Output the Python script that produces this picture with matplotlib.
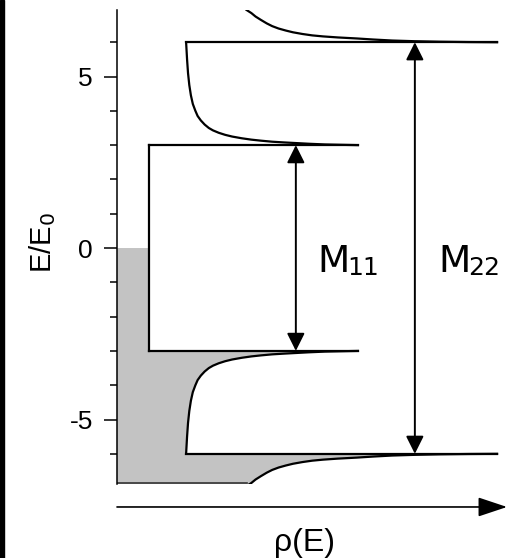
import numpy as np
import matplotlib
matplotlib.use("Agg")
import matplotlib.pyplot as plt
from matplotlib.patches import Rectangle

plt.rcParams['font.family'] = ['Liberation Sans', 'DejaVu Sans']
plt.rcParams['axes.unicode_minus'] = False

# band edges (E/E0) and constant DOS level
gap1 = 3.0
gap2 = 6.0
rho_const = 1.0

# first van Hove branch (|E| between gap1 and gap2)
inner_E = np.array([3.00, 3.01, 3.02, 3.04, 3.06, 3.08, 3.10, 3.13, 3.16, 3.20, 3.25, 3.30,
                    3.36, 3.43, 3.50, 3.60, 3.72, 3.85, 4.00, 4.20, 4.45, 4.75, 5.10, 5.50, 6.00])
inner_rho = np.array([7.53, 7.0, 6.5, 6.0, 5.6, 5.2, 4.85, 4.5, 4.2, 3.9, 3.6, 3.38,
                      3.18, 3.0, 2.87, 2.74, 2.62, 2.52, 2.45, 2.37, 2.31, 2.26, 2.22, 2.19, 2.16])

# second van Hove branch (|E| above gap2)
outer_E = np.array([6.0, 6.005, 6.015, 6.03, 6.05, 6.08, 6.11, 6.14, 6.17, 6.20,
                    6.24, 6.29, 6.34, 6.40, 6.47, 6.55, 6.65, 6.75, 6.85, 6.94])
outer_rho = np.array([11.88, 11.0, 10.1, 9.3, 8.6, 8.0, 7.5, 6.9, 6.44, 6.1,
                      5.8, 5.5, 5.28, 5.05, 4.85, 4.68, 4.5, 4.33, 4.2, 4.05])

# transitions: label, arrow position, half height
transitions = [("11", 5.59, gap1), ("22", 9.31, gap2)]
label_x = [6.25, 10.03]

y_min, y_max = -6.88, 6.94
x_max = 12.19
major_ticks = [-5, 0, 5]
minor_ticks = [-6, -4, -3, -2, -1, 1, 2, 3, 4, 6]

fig = plt.figure(figsize=(5.07, 5.58), dpi=100)
ax = fig.add_axes([117 / 507, 1 - 484 / 558, 1 - 117 / 507, (484 - 10) / 558])
ax.set_xlim(0, x_max)
ax.set_ylim(y_min, y_max)

# filled (occupied) states below E = 0
fill_x = np.concatenate([[0, rho_const, rho_const], inner_rho, outer_rho, [0]])
fill_y = np.concatenate([[0, 0, -gap1], -inner_E, -outer_E, [-outer_E[-1]]])
ax.fill(fill_x, fill_y, color='#c3c3c3', lw=0)
ax.plot([0, outer_rho[-1]], [y_min + 0.02, y_min + 0.02], color='#333333', lw=1.2)

lw = 1.6
ax.plot([rho_const, rho_const], [-gap1, gap1], color='black', lw=lw)
for s in (1, -1):
    ax.plot([rho_const, inner_rho[0]], [s * gap1, s * gap1], color='black', lw=lw)
    ax.plot(inner_rho, s * inner_E, color='black', lw=lw)
    ax.plot([inner_rho[-1], outer_rho[0]], [s * gap2, s * gap2], color='black', lw=lw)
    ax.plot(outer_rho, s * outer_E, color='black', lw=lw)

# transition arrows and labels
arrow_style = dict(arrowstyle='<|-|>,head_length=0.9,head_width=0.45', color='black',
                   lw=1.4, mutation_scale=12, shrinkA=0, shrinkB=0)
for (sub, xpos, half), lx in zip(transitions, label_x):
    ax.annotate('', xy=(xpos, -half), xytext=(xpos, half), arrowprops=arrow_style)
    ax.text(lx, -0.70, 'M', fontsize=27, ha='left', va='baseline', family='DejaVu Sans')
    ax.text(lx + 0.94, -0.79, sub, fontsize=18, ha='left', va='baseline', family='DejaVu Sans')

# rho(E) axis arrow below the plot
ax.annotate('', xy=(x_max, -7.55), xytext=(0, -7.55), annotation_clip=False,
            arrowprops=dict(arrowstyle='-|>,head_length=1.5,head_width=0.5', color='black',
                            lw=1.2, mutation_scale=12, shrinkA=0, shrinkB=0))

for side in ['top', 'right', 'bottom']:
    ax.spines[side].set_visible(False)
ax.spines['left'].set_linewidth(1.1)
ax.set_xticks([])
ax.set_yticks(major_ticks)
ax.set_yticks(minor_ticks, minor=True)
ax.tick_params(axis='y', which='major', length=9.4, width=1.1, labelsize=19, pad=8)
ax.tick_params(axis='y', which='minor', length=5, width=1.1)

fig.text(43 / 507, 1 - 243 / 558, 'E/E$_0$', rotation=90, ha='center', va='center', fontsize=21)
fig.text(305 / 507, 1 - 543 / 558, 'ρ(E)', ha='center', va='center', fontsize=23)

# dark strip at the left edge
fig.patches.append(Rectangle((0, 0), 4 / 507, 1, transform=fig.transFigure, color='black'))

fig.savefig('out.png', dpi=100)
